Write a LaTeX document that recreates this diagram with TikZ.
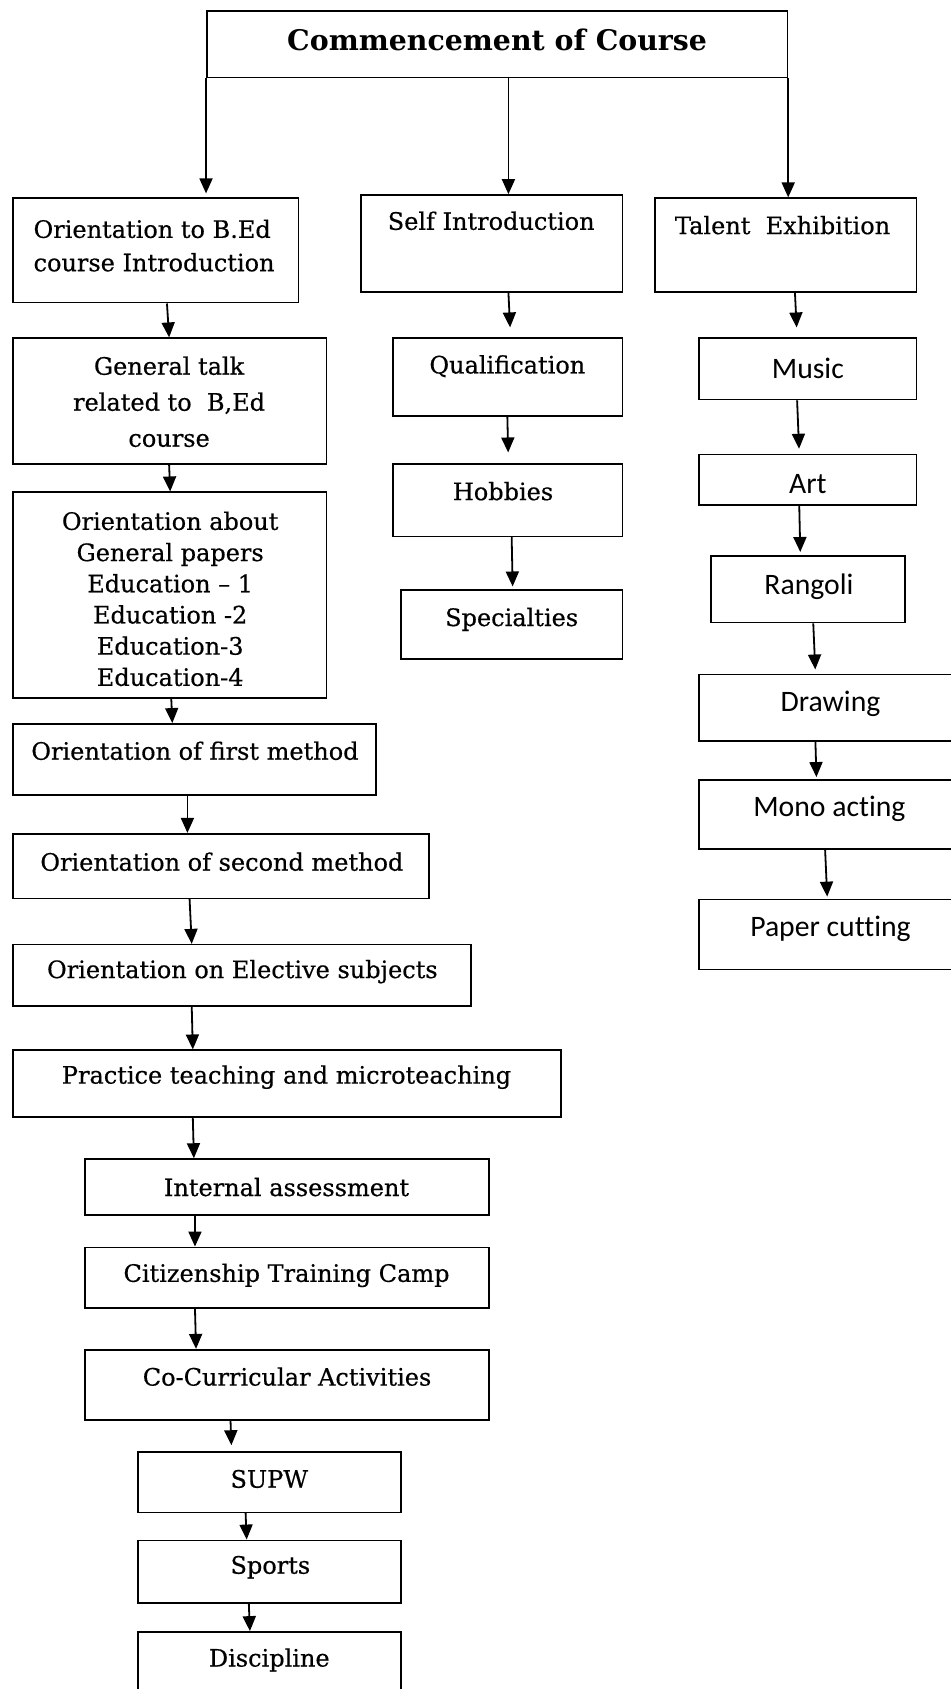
\documentclass[tikz,border=0pt]{standalone}
\usepackage{fontspec}
\setmainfont{DejaVu Serif}[FakeBold=0.5]
\newfontfamily\titlef{DejaVu Serif Bold}
\newfontfamily\sansf{Carlito}[Ligatures=NoCommon]
\usetikzlibrary{arrows.meta,fit}
\newcommand\mybox[3]{\node[box, fit={(#2) (#3)}] (#1) {};}
\newcommand\arr[5][0pt]{\draw[arr, shorten >=#1] (#2.south -| #3,0) -- (#4.north -| #5,0);}
\begin{document}
\begin{tikzpicture}[x=1.0771pt,y=-1.0771pt,
  box/.style={draw, line width=1.6pt, inner sep=0pt},
  txt/.style={inner sep=0pt, font=\fontsize{24}{31}\selectfont, align=center},
  stxt/.style={inner sep=0pt, font=\sansf\fontsize{29.7}{35}\selectfont, align=center},
  ttl/.style={inner sep=0pt, font=\titlef\fontsize{28.4}{32}\selectfont},
  arr/.style={line width=1.8pt, -{Triangle[width=13pt,length=15pt]}}]
\fill[white] (0,0) rectangle (882,1568);
\useasboundingbox (0,0) rectangle (882,1568);
% title
\mybox{top}{192,10}{731,72}
\node[ttl] (topt) at (461.5,37) {Commencement of Course};
% column 1
\mybox{o1}{12,184}{277,281}
\mybox{o2}{12,314}{303,431}
\mybox{o3}{12,457}{303,648}
\mybox{o4}{12,672}{349,738}
\mybox{o5}{12,774}{398,834}
\mybox{o6}{12,877}{437,934}
\mybox{o7}{12,975}{521,1037}
\mybox{o8}{79,1076}{454,1128}
\mybox{o9}{79,1158}{454,1214}
\mybox{o10}{79,1253}{454,1318}
\mybox{o11}{128,1348}{372,1404}
\mybox{o12}{128,1430}{372,1488}
\mybox{o13}{128,1515}{372,1590}
\node[txt, align=left, anchor=west, font=\fontsize{24}{33.4}\selectfont] (o1t) at (31,228) {Orientation to B.Ed\\course Introduction};
\node[txt, font=\fontsize{24}{36}\selectfont] (o2t) at (157,373) {General talk\\related to~~B,Ed\\course};
\node[txt, font=\fontsize{24}{31.2}\selectfont] (o3t) at (158,556) {Orientation about\\General papers\\Education – 1\\Education -2\\Education-3\\Education-4};
\node[txt] (o4t) at (181,697) {Orientation of first method};
\node[txt] (o5t) at (206,800) {Orientation of second method};
\node[txt] (o6t) at (225,902) {Orientation on Elective subjects};
\node[txt] (o7t) at (266,1000) {Practice teaching and microteaching};
\node[txt] (o8t) at (266,1102) {Internal assessment};
\node[txt] (o9t) at (266,1184) {Citizenship Training Camp};
\node[txt] (o10t) at (266.5,1278) {Co-Curricular Activities};
\node[txt] (o11t) at (250,1373) {SUPW};
\node[txt] (o12t) at (251,1455) {Sports};
\node[txt] (o13t) at (250,1541) {Discipline};
% column 2
\mybox{s1}{335,181}{578,271}
\mybox{s2}{365,314}{578,386}
\mybox{s3}{365,431}{578,498}
\mybox{s4}{372,548}{578,612}
\node[txt] (s1t) at (456,205) {Self Introduction};
\node[txt] (s2t) at (471,340) {Qualification};
\node[txt] (s3t) at (467,456) {Hobbies};
\node[txt] (s4t) at (475,575) {Specialties};
% column 3
\mybox{t1}{608,184}{851,271}
\mybox{t2}{649,314}{851,371}
\mybox{t3}{649,422}{851,469}
\mybox{t4}{660,516}{840,578}
\mybox{t5}{649,626}{900,688}
\mybox{t6}{649,724}{900,788}
\mybox{t7}{649,835}{900,900}
\node[txt] (t1t) at (726.5,209) {Talent~~Exhibition};
\node[stxt] (t2t) at (750,342) {Music};
\node[stxt] (t3t) at (750,449) {Art};
\node[stxt] (t4t) at (751,545) {Rangoli};
\node[stxt] (t5t) at (771,653) {Drawing};
\node[stxt] (t6t) at (770,751) {Mono acting};
\node[stxt] (t7t) at (771,862) {Paper cutting};
% arrows from title
\draw[arr, shorten >=4pt] (top.south west) -- (top.south west |- o1.north);
\draw[arr] (top.south -| 472,0) -- (s1.north -| 472,0);
\draw[arr] (top.south east) -- (top.south east |- t1.north);
% column 1 arrows
\arr{o1}{155}{o2}{157}
\arr{o2}{157}{o3}{158}
\arr{o3}{159}{o4}{160}
\arr{o4}{174}{o5}{174}
\arr{o5}{176}{o6}{178}
\arr{o6}{178}{o7}{179}
\arr{o7}{179}{o8}{180}
\arr{o8}{181}{o9}{181}
\arr{o9}{181}{o10}{182}
\arr[6pt]{o10}{214}{o11}{215}
\arr{o11}{228}{o12}{229}
\arr{o12}{231}{o13}{232}
% column 2 arrows
\arr[10pt]{s1}{472}{s2}{474}
\arr[11pt]{s2}{471}{s3}{472}
\arr[3pt]{s3}{475}{s4}{476}
% column 3 arrows
\arr[10pt]{t1}{738}{t2}{740}
\arr[5pt]{t2}{740}{t3}{742}
\arr[3pt]{t3}{742}{t4}{743}
\arr[4pt]{t4}{755}{t5}{757}
\arr[2pt]{t5}{757}{t6}{758}
\arr[2pt]{t6}{766}{t7}{768}
\end{tikzpicture}
\end{document}
